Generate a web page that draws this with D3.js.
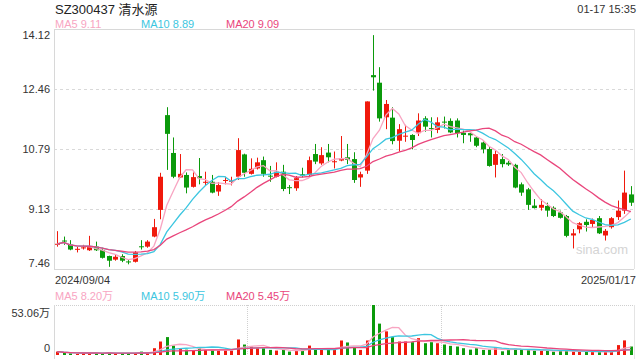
<!DOCTYPE html>
<html><head><meta charset="utf-8">
<script src="https://cdn.jsdelivr.net/npm/d3@7"></script>
<style>
html,body{margin:0;padding:0;background:#fff;}
svg{display:block;font-family:"Liberation Sans",Arial,"Noto Sans CJK SC",sans-serif;}
</style></head>
<body><svg id="c" width="640" height="360"></svg>
<script>
const title = "SZ300437 清水源";
const timeLabel = "01-17 15:35";
const dates = ["2024/09/04","2024/09/05","2024/09/06","2024/09/09","2024/09/10","2024/09/11","2024/09/12","2024/09/13","2024/09/18","2024/09/19","2024/09/20","2024/09/23","2024/09/24","2024/09/25","2024/09/26","2024/09/27","2024/09/30",
"2024/10/08","2024/10/09","2024/10/10","2024/10/11","2024/10/14","2024/10/15","2024/10/16","2024/10/17","2024/10/18","2024/10/21","2024/10/22","2024/10/23","2024/10/24","2024/10/25","2024/10/28","2024/10/29","2024/10/30","2024/10/31",
"2024/11/01","2024/11/04","2024/11/05","2024/11/06","2024/11/07","2024/11/08","2024/11/11","2024/11/12","2024/11/13","2024/11/14","2024/11/15","2024/11/18","2024/11/19","2024/11/20","2024/11/21","2024/11/22","2024/11/25","2024/11/26","2024/11/27","2024/11/28","2024/11/29",
"2024/12/02","2024/12/03","2024/12/04","2024/12/05","2024/12/06","2024/12/09","2024/12/10","2024/12/11","2024/12/12","2024/12/13","2024/12/16","2024/12/17","2024/12/18","2024/12/19","2024/12/20","2024/12/23","2024/12/24","2024/12/25","2024/12/26","2024/12/27","2024/12/30","2024/12/31",
"2025/01/02","2025/01/03","2025/01/06","2025/01/07","2025/01/08","2025/01/09","2025/01/10","2025/01/13","2025/01/14","2025/01/15","2025/01/16","2025/01/17"];
const open  = [8.14,8.25,8.14,8.00,8.04,7.98,8.08,7.99,7.82,7.72,7.82,7.67,7.66,8.09,8.08,8.36,9.10,11.73,10.68,10.00,10.07,9.74,10.04,9.86,9.88,9.61,9.91,9.88,10.02,10.64,10.10,10.25,10.48,10.05,10.02,10.16,9.73,9.70,10.09,10.07,10.65,10.39,10.69,10.43,10.47,10.56,10.51,10.00,10.19,12.84,12.63,11.67,11.66,11.02,11.14,11.18,11.23,11.64,11.37,11.32,11.55,11.57,11.58,11.24,11.23,11.11,10.97,10.79,10.35,10.51,10.41,10.35,9.81,9.67,9.22,9.16,9.21,9.16,9.03,8.93,8.39,8.56,8.77,8.71,8.87,8.39,8.62,8.90,9.08,9.53];
const high  = [8.51,8.36,8.26,8.08,8.13,8.38,8.22,8.05,7.83,7.87,7.87,7.73,7.96,8.26,8.26,8.85,10.13,11.95,11.11,10.65,10.14,10.14,10.54,10.16,10.07,9.87,10.02,10.02,11.09,10.66,10.53,10.55,10.58,10.32,10.42,10.35,9.79,10.04,10.27,10.58,10.93,10.84,10.93,10.72,11.15,10.93,10.70,10.16,12.11,13.95,13.06,12.15,11.95,11.48,11.46,11.20,11.78,11.70,11.67,11.67,11.69,11.64,11.64,11.30,11.25,11.15,11.00,10.85,10.74,10.65,10.46,10.38,9.86,9.71,9.40,9.40,9.30,9.20,9.08,8.96,8.57,8.76,8.84,8.86,8.93,8.57,8.90,9.36,10.19,9.76];
const low   = [8.08,8.13,7.98,7.92,8.00,7.96,7.96,7.75,7.52,7.69,7.65,7.59,7.64,8.00,8.05,8.34,8.84,10.21,9.98,9.99,9.56,9.72,9.81,9.79,9.56,9.49,9.81,9.78,9.93,10.02,10.08,10.22,10.02,9.88,10.00,9.62,9.54,9.63,10.00,10.04,10.37,10.35,10.42,10.25,10.45,10.37,9.85,9.74,10.10,12.41,11.55,11.34,10.92,10.72,10.99,10.78,11.15,11.27,11.11,11.23,11.36,11.23,11.11,10.95,10.99,10.84,10.67,10.30,10.00,10.28,10.32,9.70,9.49,9.10,9.14,9.08,8.91,8.90,8.86,8.34,8.03,8.45,8.50,8.61,8.43,8.25,8.58,8.82,8.99,9.21];
const close = [8.16,8.23,8.00,8.02,8.06,8.08,7.98,7.77,7.69,7.80,7.69,7.65,7.92,8.07,8.22,8.62,10.02,11.21,10.02,10.10,9.72,10.01,9.98,9.88,9.58,9.79,9.93,9.91,10.76,10.13,10.24,10.42,10.10,10.03,10.16,9.68,9.71,9.98,10.05,10.48,10.44,10.62,10.56,10.45,10.53,10.49,9.93,10.09,12.11,12.78,11.64,12.04,11.01,11.34,11.16,11.04,11.58,11.41,11.35,11.53,11.53,11.25,11.23,11.18,11.17,10.88,10.78,10.32,10.65,10.37,10.36,9.72,9.58,9.24,9.15,9.24,9.08,8.93,8.88,8.38,8.45,8.73,8.68,8.82,8.45,8.52,8.87,9.08,9.58,9.30];
// volume in 万 (10k shares)
const volume = [3.6,2.2,1.8,1.1,1.8,2.2,2.2,1.8,2.2,1.8,1.8,1.8,1.8,3.6,1.8,7.2,14.3,19.0,10.0,6.5,5.7,4.7,7.2,5.4,4.7,4.7,4.7,4.7,16.5,11.1,9.0,7.2,7.2,5.4,4.7,5.4,3.6,4.7,5.4,10.0,7.2,6.5,5.7,5.4,15.4,13.3,8.2,5.4,15.4,53.06,33.3,25.1,19.0,14.3,14.3,13.6,17.9,12.5,13.6,12.5,11.1,9.7,9.0,7.2,5.7,7.2,5.4,5.7,8.2,3.9,6.0,6.5,5.5,5.5,4.5,4.5,4.5,3.5,4.5,5.0,3.6,3.2,3.2,3.2,3.6,3.2,3.2,10.5,15.5,9.0];
const priceTicks = [14.12, 12.46, 10.79, 9.13, 7.46];
const priceTickLabels = ["14.12","12.46","10.79","9.13","7.46"];
const volTicks = [53.06, 0];
const volTickLabels = ["53.06万","0"];
const maPeriods = [5, 10, 20];
const maPriceLabels = ["MA5 9.11","MA10 8.89","MA20 9.09"];
const maVolLabels = ["MA5 8.20万","MA10 5.90万","MA20 5.45万"];
const maColors = ["#f8a5c2","#3cc6e0","#e9467c"];
const upColor = "#f0190c", downColor = "#0b9a0b";

const svg = d3.select("#c");
const L = 54, R = 634, T = 29, B = 269, VT = 305, VB = 355;
const idx = d3.range(dates.length);
const x = d3.scaleBand().domain(idx).range([L, R]).paddingInner(0.34).paddingOuter(0.17);
const xc = i => x(i) + x.bandwidth() / 2;
const y = d3.scaleLinear().domain([priceTicks[4], priceTicks[0]]).range([B, T]);
const yv = d3.scaleLinear().domain([0, volTicks[0]]).range([VB, VT]);

function ma(arr, n) {
  return arr.map((_, i) => {
    const s = Math.max(0, i - n + 1);
    return d3.mean(arr.slice(s, i + 1));
  });
}

// text header
svg.append("text").attr("x", 55).attr("y", 13.5).attr("font-size", 13).attr("fill", "#222").text(title);
svg.append("text").attr("x", 636).attr("y", 13).attr("font-size", 11).attr("fill", "#333").attr("text-anchor", "end").text(timeLabel);
const maX = [55, 141, 226];
maPriceLabels.forEach((t, k) => svg.append("text").attr("x", maX[k]).attr("y", 28).attr("font-size", 11).attr("fill", maColors[k]).text(t));

// price panel frame
svg.append("line").attr("x1", L).attr("x2", R).attr("y1", T + 0.5).attr("y2", T + 0.5).attr("stroke", "#d8d8d8");
svg.append("line").attr("x1", L).attr("x2", R).attr("y1", B + 0.5).attr("y2", B + 0.5).attr("stroke", "#d8d8d8");
svg.append("line").attr("x1", L + 0.5).attr("x2", L + 0.5).attr("y1", T).attr("y2", B).attr("stroke", "#d8d8d8");
svg.append("line").attr("x1", R + 0.5).attr("x2", R + 0.5).attr("y1", T).attr("y2", B).attr("stroke", "#e4e4e4");
priceTicks.slice(1, 4).forEach(v => {
  svg.append("line").attr("x1", L).attr("x2", R).attr("y1", Math.round(y(v)) + 0.5).attr("y2", Math.round(y(v)) + 0.5)
    .attr("stroke", "#d9d9d9").attr("stroke-dasharray", "3,3");
});
priceTicks.forEach((v, k) => {
  let yy = y(v) + 4;
  if (k === 0) yy = y(v) + 10;
  if (k === 4) yy = y(v) - 2;
  svg.append("text").attr("x", 50).attr("y", yy).attr("font-size", 11).attr("fill", "#333").attr("text-anchor", "end").text(priceTickLabels[k]);
});

// watermark
svg.append("text").attr("x", 602).attr("y", 254).attr("font-size", 13).attr("fill", "#d4d4d4").attr("text-anchor", "middle").text("sina.com");

// candles
const isUp = i => close[i] >= open[i];
const g = svg.append("g");
g.selectAll("line.w").data(idx).join("line")
  .attr("x1", i => Math.round(xc(i)) + 0.5).attr("x2", i => Math.round(xc(i)) + 0.5)
  .attr("y1", i => y(high[i])).attr("y2", i => y(low[i]))
  .attr("stroke", i => isUp(i) ? upColor : downColor).attr("stroke-width", 1);
g.selectAll("rect.b").data(idx).join("rect")
  .attr("x", i => Math.round(xc(i)) - 2).attr("width", 5)
  .attr("y", i => y(Math.max(open[i], close[i])))
  .attr("height", i => Math.max(1, Math.abs(y(open[i]) - y(close[i]))))
  .attr("fill", i => isUp(i) ? upColor : downColor);

// price MAs
const line = d3.line().x((d, i) => xc(i)).y(d => y(d)).curve(d3.curveLinear);
maPeriods.forEach((n, k) => {
  svg.append("path").attr("d", line(ma(close, n))).attr("fill", "none").attr("stroke", maColors[k]).attr("stroke-width", 1.3);
});

// date labels
svg.append("text").attr("x", 55).attr("y", 284).attr("font-size", 11).attr("fill", "#333").text(dates[0]);
svg.append("text").attr("x", 636).attr("y", 284).attr("font-size", 11).attr("fill", "#333").attr("text-anchor", "end").text(dates[dates.length - 1]);
maVolLabels.forEach((t, k) => svg.append("text").attr("x", maX[k]).attr("y", 300).attr("font-size", 11).attr("fill", maColors[k]).text(t));

// volume panel
svg.append("line").attr("x1", L).attr("x2", R).attr("y1", VT + 0.5).attr("y2", VT + 0.5).attr("stroke", "#cfcfcf").attr("stroke-dasharray", "1,1");
svg.append("line").attr("x1", L + 0.5).attr("x2", L + 0.5).attr("y1", VT).attr("y2", VB + 4).attr("stroke", "#d8d8d8");
svg.append("line").attr("x1", R + 0.5).attr("x2", R + 0.5).attr("y1", VT).attr("y2", VB + 4).attr("stroke", "#e4e4e4");
[1, 2].forEach(k => {
  const xx = Math.round(L + (R - L) * k / 3) + 0.5;
  svg.append("line").attr("x1", xx).attr("x2", xx).attr("y1", VT).attr("y2", VB).attr("stroke", "#d0d0d0").attr("stroke-dasharray", "1,1");
});
svg.append("text").attr("x", 50).attr("y", VT + 12).attr("font-size", 11).attr("fill", "#333").attr("text-anchor", "end").text(volTickLabels[0]);
svg.append("text").attr("x", 50).attr("y", VB - 3).attr("font-size", 11).attr("fill", "#333").attr("text-anchor", "end").text(volTickLabels[1]);
svg.selectAll("rect.v").data(idx).join("rect")
  .attr("x", i => Math.round(xc(i)) - 1).attr("width", 3)
  .attr("y", i => yv(volume[i])).attr("height", i => Math.max(1, VB - yv(volume[i])))
  .attr("fill", i => isUp(i) ? upColor : downColor);
const vline = d3.line().x((d, i) => xc(i)).y(d => yv(d));
maPeriods.forEach((n, k) => {
  svg.append("path").attr("d", vline(ma(volume, n))).attr("fill", "none").attr("stroke", maColors[k]).attr("stroke-width", 1.3);
});
</script></body></html>
